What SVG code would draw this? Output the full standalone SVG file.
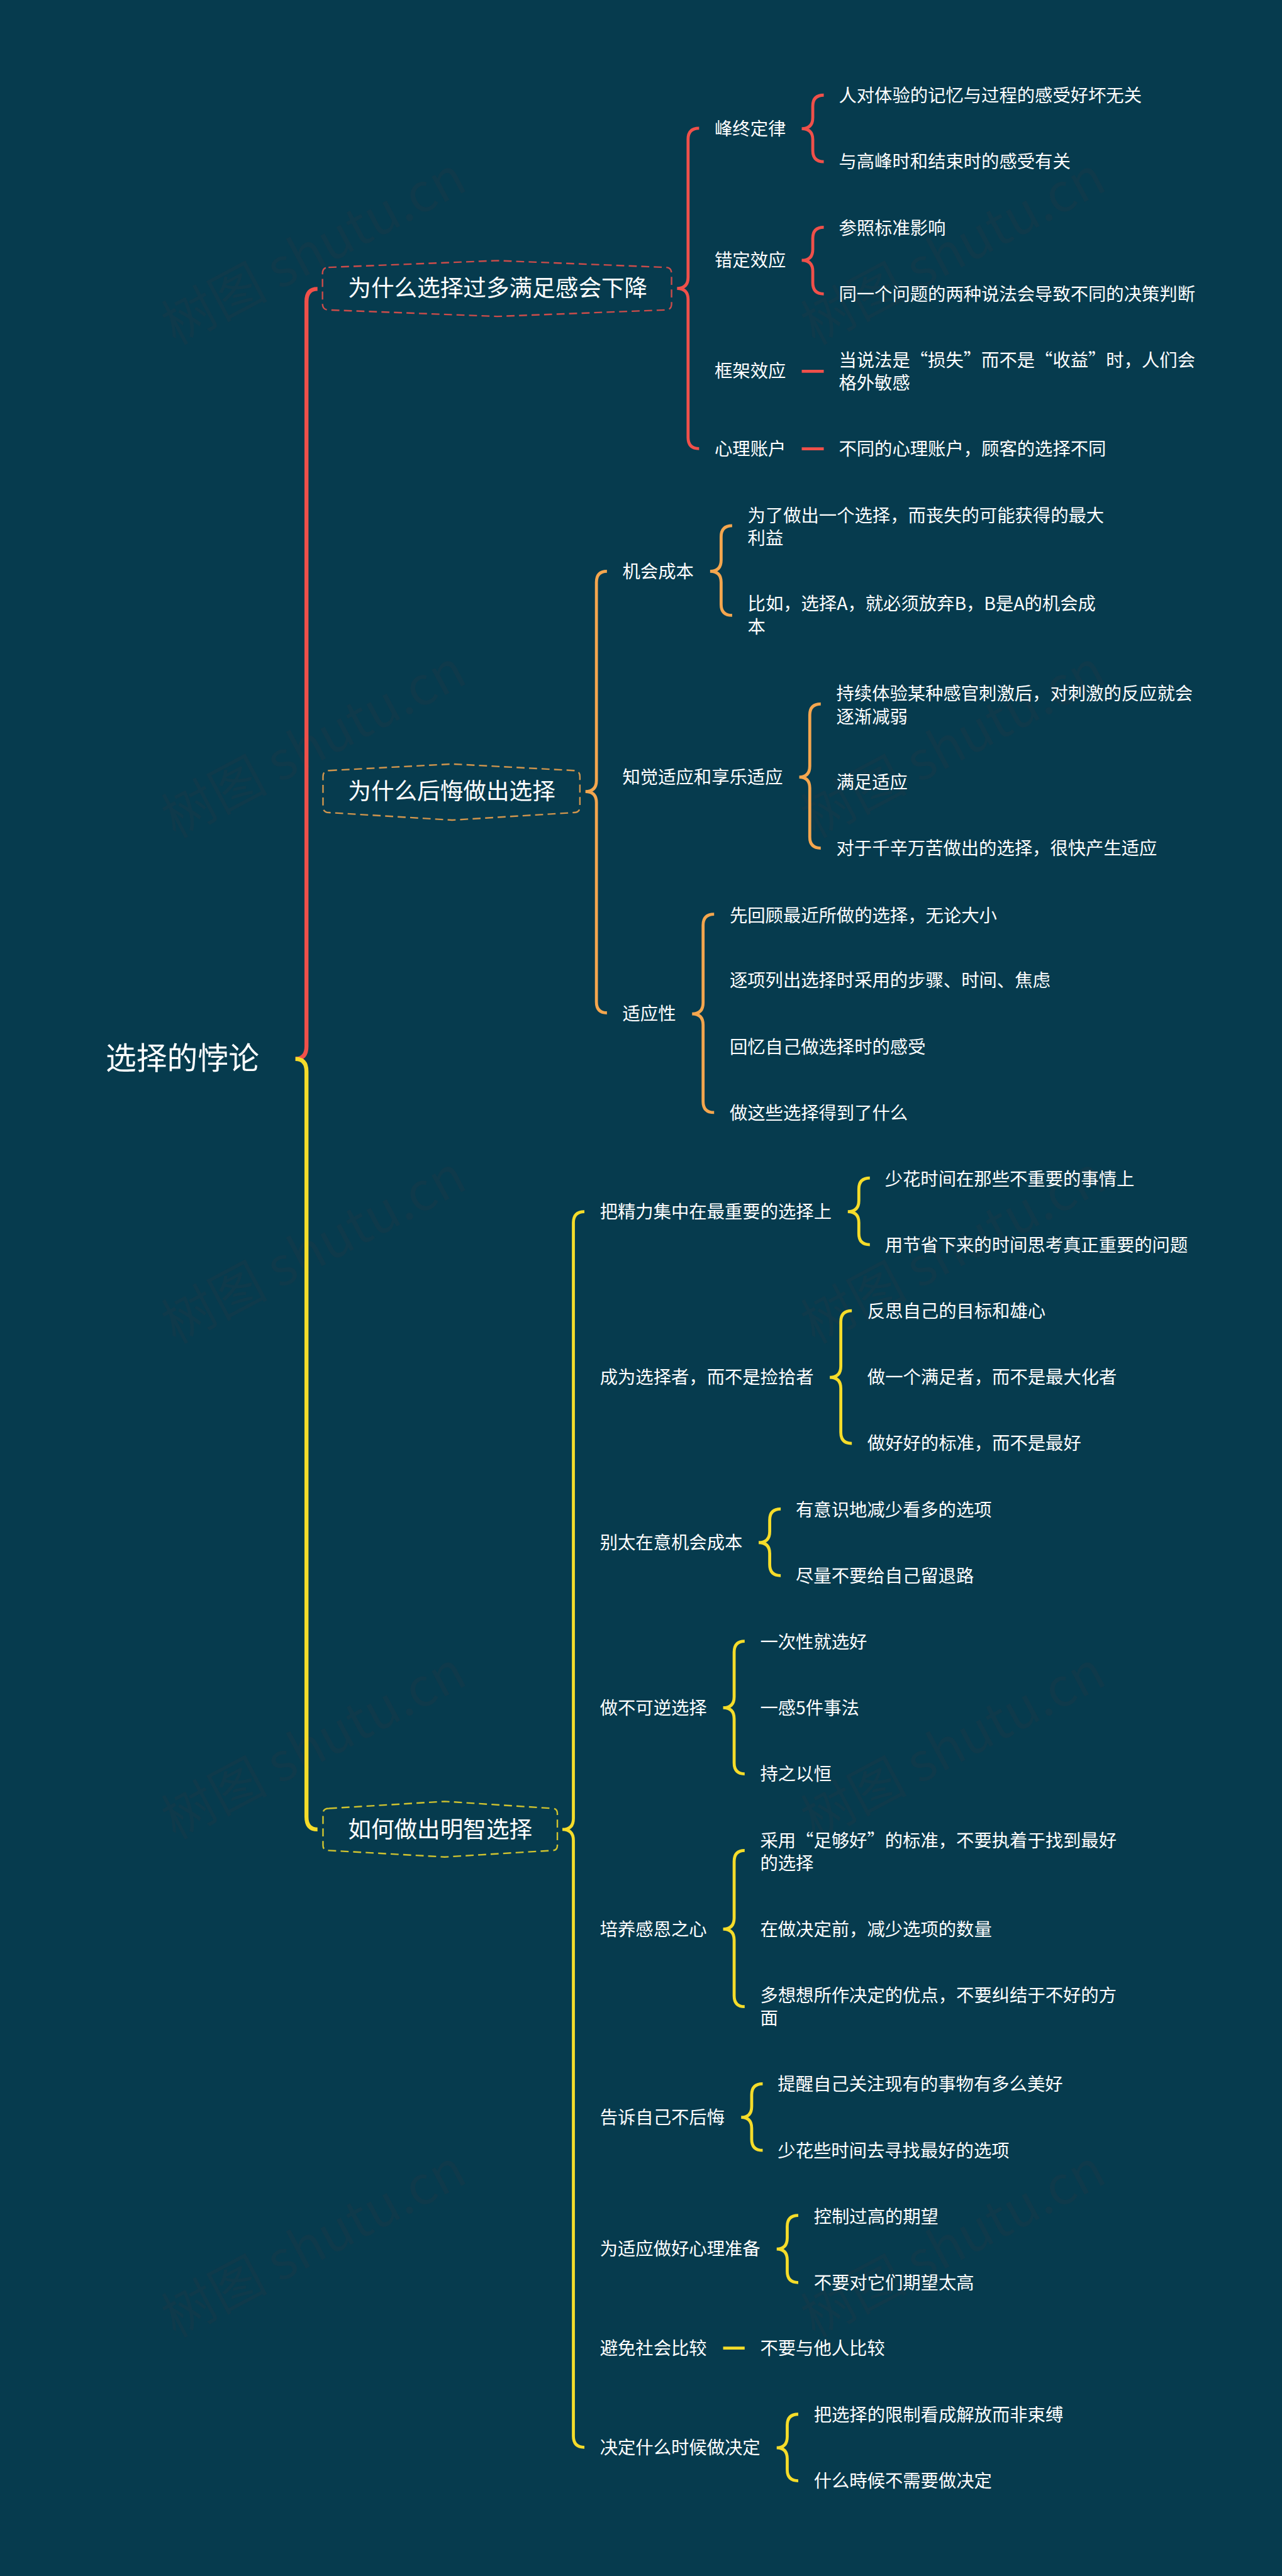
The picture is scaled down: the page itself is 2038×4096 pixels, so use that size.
<svg xmlns="http://www.w3.org/2000/svg" width="2038" height="4096" viewBox="0 0 2038 4096" lang="zh-CN">
<style>
text{font-family:"Noto Sans CJK SC","Liberation Sans",sans-serif;fill:#fff}
.r{font-size:61.3px}.t{font-size:46px}.n{font-size:35.6px}
.w{font-size:106px;fill:#0f3a4b}
path,line{fill:none;stroke-linecap:butt}
.red{stroke:#f0504a}.ora{stroke:#f4a64e}.yel{stroke:#f5dc2a}
.m{stroke-width:8}.b{stroke-width:6}
.d{stroke-width:3;stroke-dasharray:16 9;stroke-opacity:.85}
</style>
<rect width="2038" height="4096" fill="#063b4e"/>
<g transform="scale(0.79609)">
<g id="watermark">
<text class="w" transform="translate(350 690) rotate(-28)">树图 shutu.cn</text>
<text class="w" transform="translate(1627 690) rotate(-28)">树图 shutu.cn</text>
<text class="w" transform="translate(350 1675) rotate(-28)">树图 shutu.cn</text>
<text class="w" transform="translate(1627 1675) rotate(-28)">树图 shutu.cn</text>
<text class="w" transform="translate(350 2685) rotate(-28)">树图 shutu.cn</text>
<text class="w" transform="translate(1627 2685) rotate(-28)">树图 shutu.cn</text>
<text class="w" transform="translate(350 3675) rotate(-28)">树图 shutu.cn</text>
<text class="w" transform="translate(1627 3675) rotate(-28)">树图 shutu.cn</text>
<text class="w" transform="translate(350 4670) rotate(-28)">树图 shutu.cn</text>
<text class="w" transform="translate(1627 4670) rotate(-28)">树图 shutu.cn</text>
</g>
<g id="connectors">
<path class="red m" d="M634 577Q612 577 612 602V2090Q612 2115 590 2115"/>
<path class="yel m" d="M590 2115Q612 2115 612 2140V3629Q612 3654 634 3654"/>
<path class="red b" d="M1396 256Q1374 256 1374 278V554Q1374 576 1352 576Q1374 576 1374 598V874Q1374 896 1396 896"/>
<path class="red b" d="M1645 190Q1623 190 1623 212V235Q1623 257 1601 257Q1623 257 1623 279V301Q1623 323 1645 323"/>
<path class="red b" d="M1645 454Q1623 454 1623 476V498Q1623 520 1601 520Q1623 520 1623 542V565Q1623 587 1645 587"/>
<line class="red b" x1="1601" y1="741.5" x2="1645" y2="741.5"/>
<line class="red b" x1="1601" y1="896.5" x2="1645" y2="896.5"/>
<path class="ora b" d="M1212 1141Q1191 1141 1191 1163V1559Q1191 1581 1169 1581Q1191 1581 1191 1603V2001Q1191 2023 1212 2023"/>
<path class="ora b" d="M1462 1050Q1440 1050 1440 1072V1119Q1440 1141 1418 1141Q1440 1141 1440 1163V1207Q1440 1229 1462 1229"/>
<path class="ora b" d="M1639 1406Q1617 1406 1617 1428V1530Q1617 1552 1596 1552Q1617 1552 1617 1574V1672Q1617 1694 1639 1694"/>
<path class="ora b" d="M1426 1826Q1404 1826 1404 1848V2003Q1404 2025 1382 2025Q1404 2025 1404 2047V2200Q1404 2222 1426 2222"/>
<path class="yel b" d="M1167 2420Q1145 2420 1145 2442V3632Q1145 3654 1123 3654Q1145 3654 1145 3676V4866Q1145 4888 1167 4888"/>
<path class="yel b" d="M1737 2353Q1715 2353 1715 2375V2398Q1715 2420 1693 2420Q1715 2420 1715 2442V2464Q1715 2486 1737 2486"/>
<path class="yel b" d="M1701 2618Q1679 2618 1679 2640V2729Q1679 2751 1657 2751Q1679 2751 1679 2773V2861Q1679 2883 1701 2883"/>
<path class="yel b" d="M1559 3014Q1537 3014 1537 3036V3059Q1537 3081 1515 3081Q1537 3081 1537 3103V3125Q1537 3147 1559 3147"/>
<path class="yel b" d="M1487 3278Q1466 3278 1466 3300V3389Q1466 3411 1444 3411Q1466 3411 1466 3433V3521Q1466 3543 1487 3543"/>
<path class="yel b" d="M1487 3696Q1466 3696 1466 3718V3831Q1466 3853 1444 3853Q1466 3853 1466 3875V3986Q1466 4008 1487 4008"/>
<path class="yel b" d="M1523 4162Q1501 4162 1501 4184V4207Q1501 4229 1480 4229Q1501 4229 1501 4251V4273Q1501 4295 1523 4295"/>
<path class="yel b" d="M1594 4425Q1572 4425 1572 4447V4470Q1572 4492 1551 4492Q1572 4492 1572 4514V4537Q1572 4559 1594 4559"/>
<line class="yel b" x1="1444" y1="4690" x2="1487" y2="4690"/>
<path class="yel b" d="M1594 4822Q1572 4822 1572 4844V4867Q1572 4889 1551 4889Q1572 4889 1572 4911V4933Q1572 4955 1594 4955"/>
</g>
<g id="root"><text class="r" x="211" y="2136">选择的悖论</text></g>
<g id="topic-1">
<path class="red d" d="M656 534L993 520.5L1329 534Q1341 534 1341 546V607Q1341 619 1329 619L993 632L656 619Q644 619 644 607V546Q644 534 656 534Z"/>
<text class="t" x="695" y="592">为什么选择过多满足感会下降</text>
</g>
<g id="n-fengzhong"><text class="n" x="1427" y="270">峰终定律</text></g>
<g id="l1"><text class="n" x="1675" y="204">人对体验的记忆与过程的感受好坏无关</text></g>
<g id="l2"><text class="n" x="1675" y="336">与高峰时和结束时的感受有关</text></g>
<g id="n-maoding"><text class="n" x="1427" y="533">错定效应</text></g>
<g id="l3"><text class="n" x="1675" y="468">参照标准影响</text></g>
<g id="l4"><text class="n" x="1675" y="600">同一个问题的两种说法会导致不同的决策判断</text></g>
<g id="n-kuangjia"><text class="n" x="1427" y="754">框架效应</text></g>
<g id="l5"><text class="n" x="1675" y="732">当说法是“损失”而不是“收益”时，人们会</text><text class="n" x="1675" y="777">格外敏感</text></g>
<g id="n-xinli"><text class="n" x="1427" y="909">心理账户</text></g>
<g id="l6"><text class="n" x="1675" y="909">不同的心理账户，顾客的选择不同</text></g>
<g id="topic-2">
<path class="ora d" d="M657 1539L903 1526L1146 1539Q1158 1539 1158 1551V1611Q1158 1623 1146 1623L903 1638L657 1623Q645 1623 645 1611V1551Q645 1539 657 1539Z"/>
<text class="t" x="695" y="1597">为什么后悔做出选择</text>
</g>
<g id="n-jihui"><text class="n" x="1243" y="1154">机会成本</text></g>
<g id="l7"><text class="n" x="1493" y="1043">为了做出一个选择，而丧失的可能获得的最大</text><text class="n" x="1493" y="1088">利益</text></g>
<g id="l8"><text class="n" x="1493" y="1219">比如，选择A，就必须放弃B，B是A的机会成</text><text class="n" x="1493" y="1265">本</text></g>
<g id="n-zhijue"><text class="n" x="1243" y="1565">知觉适应和享乐适应</text></g>
<g id="l9"><text class="n" x="1670" y="1398">持续体验某种感官刺激后，对刺激的反应就会</text><text class="n" x="1670" y="1444">逐渐减弱</text></g>
<g id="l10"><text class="n" x="1670" y="1575">满足适应</text></g>
<g id="l11"><text class="n" x="1670" y="1707">对于千辛万苦做出的选择，很快产生适应</text></g>
<g id="n-shiying"><text class="n" x="1243" y="2038">适应性</text></g>
<g id="l12"><text class="n" x="1457" y="1841">先回顾最近所做的选择，无论大小</text></g>
<g id="l13"><text class="n" x="1457" y="1971">逐项列出选择时采用的步骤、时间、焦虑</text></g>
<g id="l14"><text class="n" x="1457" y="2104">回忆自己做选择时的感受</text></g>
<g id="l15"><text class="n" x="1457" y="2236">做这些选择得到了什么</text></g>
<g id="topic-3">
<path class="yel d" d="M657 3612L888 3598L1103 3612Q1113 3612 1113 3622V3686Q1113 3696 1103 3696L888 3709L657 3696Q645 3696 645 3686V3622Q645 3612 657 3612Z"/>
<text class="t" x="695" y="3670">如何做出明智选择</text>
</g>
<g id="n-jingli"><text class="n" x="1198" y="2433">把精力集中在最重要的选择上</text></g>
<g id="l16"><text class="n" x="1767" y="2368">少花时间在那些不重要的事情上</text></g>
<g id="l17"><text class="n" x="1767" y="2500">用节省下来的时间思考真正重要的问题</text></g>
<g id="n-xuanze"><text class="n" x="1198" y="2764">成为选择者，而不是捡拾者</text></g>
<g id="l18"><text class="n" x="1732" y="2632">反思自己的目标和雄心</text></g>
<g id="l19"><text class="n" x="1732" y="2764">做一个满足者，而不是最大化者</text></g>
<g id="l20"><text class="n" x="1732" y="2896">做好好的标准，而不是最好</text></g>
<g id="n-zaiyi"><text class="n" x="1198" y="3094">别太在意机会成本</text></g>
<g id="l21"><text class="n" x="1589" y="3028">有意识地减少看多的选项</text></g>
<g id="l22"><text class="n" x="1589" y="3160">尽量不要给自己留退路</text></g>
<g id="n-kenni"><text class="n" x="1198" y="3424">做不可逆选择</text></g>
<g id="l23"><text class="n" x="1518" y="3292">一次性就选好</text></g>
<g id="l24"><text class="n" x="1518" y="3424">一感5件事法</text></g>
<g id="l25"><text class="n" x="1518" y="3556">持之以恒</text></g>
<g id="n-ganen"><text class="n" x="1198" y="3866">培养感恩之心</text></g>
<g id="l26"><text class="n" x="1518" y="3689">采用“足够好”的标准，不要执着于找到最好</text><text class="n" x="1518" y="3734">的选择</text></g>
<g id="l27"><text class="n" x="1518" y="3866">在做决定前，减少选项的数量</text></g>
<g id="l28"><text class="n" x="1518" y="3998">多想想所作决定的优点，不要纠结于不好的方</text><text class="n" x="1518" y="4044">面</text></g>
<g id="n-houhui"><text class="n" x="1198" y="4242">告诉自己不后悔</text></g>
<g id="l29"><text class="n" x="1553" y="4176">提醒自己关注现有的事物有多么美好</text></g>
<g id="l30"><text class="n" x="1553" y="4308">少花些时间去寻找最好的选项</text></g>
<g id="n-zhunbei"><text class="n" x="1198" y="4505">为适应做好心理准备</text></g>
<g id="l31"><text class="n" x="1625" y="4440">控制过高的期望</text></g>
<g id="l32"><text class="n" x="1625" y="4572">不要对它们期望太高</text></g>
<g id="n-bijiao"><text class="n" x="1198" y="4703">避免社会比较</text></g>
<g id="l33"><text class="n" x="1518" y="4703">不要与他人比较</text></g>
<g id="n-shihou"><text class="n" x="1198" y="4902">决定什么时候做决定</text></g>
<g id="l34"><text class="n" x="1625" y="4836">把选择的限制看成解放而非束缚</text></g>
<g id="l35"><text class="n" x="1625" y="4968">什么時候不需要做决定</text></g>
</g>
</svg>
